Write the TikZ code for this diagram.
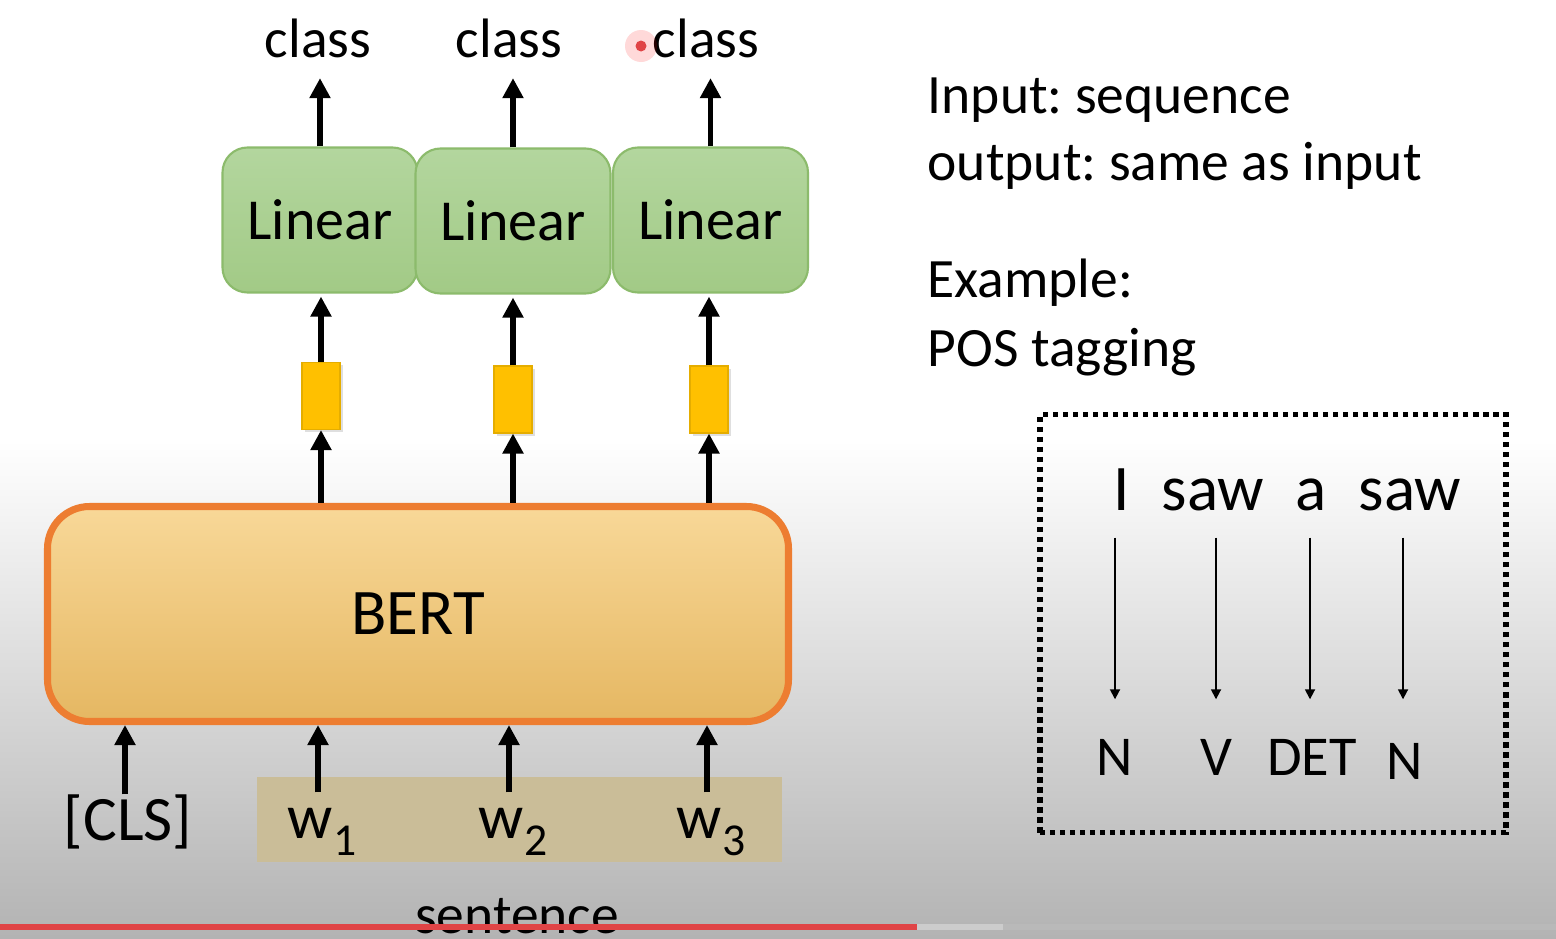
\documentclass[tikz,border=0pt]{standalone}
\usepackage{fontspec}
\setmainfont{Carlito}
\frenchspacing
\usetikzlibrary{arrows.meta,shadows}
\definecolor{lintop}{HTML}{B3D69E}
\definecolor{linbot}{HTML}{A2CA86}
\definecolor{linedge}{HTML}{8CBB6C}
\definecolor{vecfill}{HTML}{FFC000}
\definecolor{bertop}{HTML}{F8D898}
\definecolor{berbot}{HTML}{E5B762}
\definecolor{beredge}{HTML}{ED7D31}
\definecolor{sentfill}{HTML}{CABD98}
\definecolor{bggray}{HTML}{B3B3B3}
\definecolor{barred}{HTML}{E04446}

\begin{document}
\begin{tikzpicture}[
  linbox/.style={draw=linedge, line width=0.6pt, rounded corners=0.25cm,
    top color=lintop, bottom color=linbot, minimum width=1.95cm,
    minimum height=1.45cm, font=\fontsize{16.5pt}{18pt}\selectfont},
  vecbox/.style={fill=vecfill, draw=vecfill!90!black, line width=0.3pt,
    minimum width=0.38cm, minimum height=0.67cm, inner sep=0pt,
    drop shadow={opacity=0.25, shadow xshift=0.025cm, shadow yshift=-0.025cm}},
  uparr/.style={line width=1.5pt, -{Triangle[width=0.2cm,length=0.2cm]}},
  tagarr/.style={line width=0.5pt, -{Triangle[width=0.1cm,length=0.1cm]}},
  big/.style={font=\fontsize{15.8pt}{19pt}\selectfont, inner sep=0pt},
  tok/.style={font=\fontsize{18pt}{20pt}\selectfont, inner sep=0pt,
    text height=0.45cm, text depth=0.1cm, anchor=base},
  tag/.style={font=\fontsize{16pt}{19pt}\selectfont, inner sep=0pt,
    text height=0.37cm, anchor=base}
]
  \useasboundingbox (0,0) rectangle (15.56,-9.38);
  % background, white fading into grey at the bottom
  \fill[white] (0,0) rectangle (15.56,-4.4);
  \shade[top color=white, bottom color=bggray] (0,-4.4) rectangle (15.56,-9.38);

  % BERT block
  \node[draw=beredge, line width=2pt, rounded corners=0.42cm,
    top color=bertop, bottom color=berbot, minimum width=7.41cm,
    minimum height=2.15cm, font=\fontsize{18.5pt}{20pt}\selectfont]
    (bert) at (4.18,-6.14) {BERT};

  % output vectors, linear layers and classes
  \node[vecbox] (vec1) at (3.21,-3.96) {};
  \node[vecbox] (vec2) at (5.13,-3.995) {};
  \node[vecbox] (vec3) at (7.09,-3.995) {};
  \node[linbox] (lin1) at (3.20,-2.20) {Linear};
  \node[linbox] (lin2) at (5.13,-2.21) {Linear};
  \node[linbox] (lin3) at (7.105,-2.20) {Linear};
  \node[big, anchor=base] (cls1) at (3.18,-0.57) {class};
  \node[big, anchor=base] (cls2) at (5.09,-0.57) {class};
  \node[big, anchor=base] (cls3) at (7.06,-0.57) {class};

  \foreach \i in {1,2,3}{
    \draw[uparr] (vec\i.south |- bert.north) -- (vec\i.south);
    \draw[uparr, shorten >=0.03cm] (vec\i.north) -- (vec\i.north |- lin\i.south);
    \draw[uparr, shorten >=0.2cm] (lin\i.north) -- (lin\i.north |- cls\i.south);
  }

  % input tokens
  \node[fill=sentfill, minimum width=5.25cm, minimum height=0.85cm] (sent) at (5.195,-8.195) {};
  \node[tok] (tcls) at (1.28,-8.40) {[CLS]};
  \node[tok] (tw1) at (3.22,-8.38) {w\raisebox{-0.28em}{\fontsize{13pt}{14pt}\selectfont 1}};
  \node[tok] (tw2) at (5.13,-8.38) {w\raisebox{-0.28em}{\fontsize{13pt}{14pt}\selectfont 2}};
  \node[tok] (tw3) at (7.11,-8.38) {w\raisebox{-0.28em}{\fontsize{13pt}{14pt}\selectfont 3}};
  \draw[uparr] (1.25,-7.95 |- tcls.north) -- (1.25,-7.95 |- bert.south);
  \draw[uparr] ([xshift=-0.04cm]tw1.north) -- ([xshift=-0.04cm]tw1.north |- bert.south);
  \draw[uparr] ([xshift=-0.04cm]tw2.north) -- ([xshift=-0.04cm]tw2.north |- bert.south);
  \draw[uparr] ([xshift=-0.04cm]tw3.north) -- ([xshift=-0.04cm]tw3.north |- bert.south);
  \node[big, anchor=base] (sentlbl) at (5.17,-9.33) {sentence};

  % task description
  \node[big, anchor=base west] (inp) at (9.27,-1.13) {Input: sequence};
  \node[big, anchor=base west] (outp) at (9.27,-1.80) {output: same as input};
  \node[big, anchor=base west] (exa) at (9.27,-2.97) {Example:};
  \node[big, anchor=base west] (pos) at (9.27,-3.66) {POS tagging};

  % tagging example
  \node[draw, line width=1.7pt, dash pattern=on 1.5pt off 1.35pt,
    minimum width=4.66cm, minimum height=4.18cm] (tagbox) at (12.73,-6.235) {};
  \node[tok, font=\fontsize{18.5pt}{20pt}\selectfont] (wI) at (11.22,-5.10) {I};
  \node[tok, font=\fontsize{18.5pt}{20pt}\selectfont] (wsaw) at (12.13,-5.10) {saw};
  \node[tok, font=\fontsize{18.5pt}{20pt}\selectfont] (wa) at (13.11,-5.10) {a};
  \node[tok, font=\fontsize{18.5pt}{20pt}\selectfont] (wsawb) at (14.10,-5.10) {saw};
  \node[tag] (tN) at (11.15,-7.75) {N};
  \node[tag] (tV) at (12.16,-7.75) {V};
  \node[tag] (tDET) at (13.12,-7.75) {DET};
  \node[tag] (tNb) at (14.05,-7.79) {N};
  \draw[tagarr, shorten <=0.17cm, shorten >=0.38cm] (tN.north |- wI.south) -- (tN.north);
  \draw[tagarr, shorten <=0.17cm, shorten >=0.38cm] (tV.north |- wsaw.south) -- (tV.north);
  \draw[tagarr, shorten <=0.17cm, shorten >=0.38cm] ([xshift=-0.02cm]tDET.north |- wa.south) -- ([xshift=-0.02cm]tDET.north);
  \draw[tagarr, shorten <=0.17cm, shorten >=0.42cm] ([xshift=-0.02cm]tNb.north |- wsawb.south) -- ([xshift=-0.02cm]tNb.north);

  % video player marks
  \fill[red, opacity=0.15] (6.41,-0.46) circle (0.16);
  \fill[barred] (6.41,-0.46) circle (0.055);
  \fill[barred] (0,-9.24) rectangle (9.17,-9.30);
  \fill[gray!40] (9.17,-9.24) rectangle (10.03,-9.30);
  \fill[gray!55] (10.03,-9.24) rectangle (15.56,-9.30);
\end{tikzpicture}
\end{document}
